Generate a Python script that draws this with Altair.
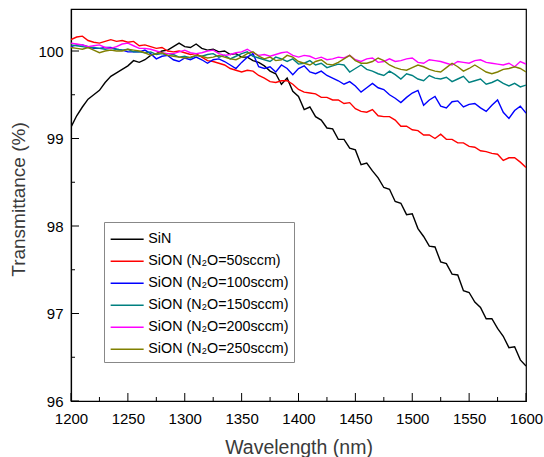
import altair as alt
import pandas as pd

FONT = "Liberation Sans"

wavelength = list(range(1200, 1605, 5))

series_names = [
    "SiN",
    "SiON (N\u2082O=50sccm)",
    "SiON (N\u2082O=100sccm)",
    "SiON (N\u2082O=150sccm)",
    "SiON (N\u2082O=200sccm)",
    "SiON (N\u2082O=250sccm)",
]
series_colors = ["#000000", "#FF0000", "#0000FF", "#008080", "#FF00FF", "#808000"]

sin = [99.13, 99.26, 99.36, 99.45, 99.50, 99.55, 99.64, 99.71, 99.75, 99.79,
       99.83, 99.89, 99.87, 99.90, 99.95, 99.97, 100.00, 100.01, 100.05, 100.09,
       100.05, 100.04, 100.08, 100.03, 100.01, 100.02, 99.99, 100.00, 99.96, 99.97,
       99.93, 99.93, 99.89, 99.87, 99.83, 99.77, 99.74, 99.62, 99.69, 99.54,
       99.48, 99.33, 99.36, 99.25, 99.21, 99.12, 99.11, 98.99, 98.99, 98.89,
       98.87, 98.70, 98.72, 98.63, 98.55, 98.44, 98.42, 98.28, 98.26, 98.13,
       98.14, 97.97, 97.88, 97.77, 97.76, 97.59, 97.57, 97.45, 97.44, 97.26,
       97.24, 97.13, 97.07, 96.94, 96.94, 96.83, 96.74, 96.61, 96.62, 96.47,
       96.40]

sion50 = [100.13, 100.16, 100.17, 100.12, 100.10, 100.09, 100.11, 100.13, 100.11, 100.12,
          100.10, 100.11, 100.06, 100.07, 100.05, 100.03, 100.04, 100.00, 99.99, 100.00,
          99.98, 99.96, 99.97, 99.93, 99.89, 99.88, 99.86, 99.84, 99.80, 99.78,
          99.76, 99.78, 99.77, 99.72, 99.69, 99.65, 99.64, 99.66, 99.66, 99.62,
          99.56, 99.53, 99.52, 99.51, 99.47, 99.47, 99.44, 99.44, 99.40, 99.41,
          99.34, 99.31, 99.30, 99.33, 99.26, 99.25, 99.25, 99.21, 99.14, 99.14,
          99.10, 99.09, 99.04, 99.04, 99.00, 99.05, 98.99, 98.99, 98.95, 98.95,
          98.91, 98.90, 98.86, 98.85, 98.83, 98.82, 98.75, 98.78, 98.78, 98.73,
          98.67]

sion100 = [100.05, 100.07, 100.07, 100.05, 100.03, 100.03, 100.04, 100.04, 100.02, 100.01,
           99.99, 99.99, 99.99, 100.01, 99.97, 99.91, 99.94, 99.95, 99.90, 99.88,
           99.92, 99.90, 99.93, 99.90, 99.86, 99.90, 99.91, 99.88, 99.84, 99.80,
           99.87, 99.93, 99.97, 99.82, 99.80, 99.82, 99.76, 99.84, 99.80, 99.73,
           99.80, 99.83, 99.76, 99.74, 99.77, 99.72, 99.69, 99.66, 99.62, 99.65,
           99.60, 99.53, 99.58, 99.63, 99.58, 99.56, 99.50, 99.46, 99.41, 99.47,
           99.52, 99.55, 99.38, 99.44, 99.48, 99.37, 99.35, 99.42, 99.43, 99.36,
           99.39, 99.40, 99.35, 99.31, 99.38, 99.44, 99.30, 99.23, 99.32, 99.37,
           99.29]

sion150 = [100.07, 100.06, 100.05, 100.04, 100.04, 100.03, 100.02, 100.03, 100.02, 100.01,
           100.02, 99.99, 99.99, 99.98, 99.99, 99.96, 99.97, 99.95, 99.96, 99.93,
           99.94, 99.92, 99.95, 99.94, 99.96, 99.97, 99.93, 99.95, 99.91, 99.94,
           99.97, 99.99, 99.94, 99.92, 99.90, 99.88, 99.93, 99.91, 99.88, 99.91,
           99.85, 99.86, 99.89, 99.84, 99.86, 99.81, 99.83, 99.85, 99.84, 99.76,
           99.80, 99.84, 99.79, 99.77, 99.74, 99.72, 99.77, 99.73, 99.68, 99.74,
           99.72, 99.68, 99.66, 99.72, 99.69, 99.68, 99.70, 99.65, 99.68, 99.71,
           99.64, 99.66, 99.68, 99.62, 99.64, 99.67, 99.63, 99.60, 99.63, 99.59,
           99.61]

sion200 = [100.09, 100.08, 100.07, 100.05, 100.06, 100.07, 100.04, 100.03, 100.05, 100.08,
           100.09, 100.06, 100.03, 100.03, 100.02, 100.00, 99.98, 99.97, 99.97, 99.99,
           100.01, 99.98, 99.97, 99.98, 100.00, 100.01, 99.97, 99.95, 99.96, 99.98,
           99.99, 100.02, 99.98, 99.95, 99.96, 99.94, 99.96, 99.98, 99.99, 99.95,
           99.93, 99.95, 99.94, 99.91, 99.93, 99.90, 99.91, 99.93, 99.92, 99.95,
           99.90, 99.88, 99.91, 99.92, 99.87, 99.88, 99.91, 99.88, 99.89, 99.91,
           99.92, 99.87, 99.86, 99.90, 99.89, 99.88, 99.86, 99.84, 99.88, 99.87,
           99.86, 99.89, 99.90, 99.87, 99.86, 99.85, 99.84, 99.86, 99.82, 99.88,
           99.85]

sion250 = [100.04, 100.03, 100.02, 100.04, 100.01, 99.98, 100.00, 100.01, 100.00, 100.00,
           100.02, 100.01, 100.00, 99.98, 99.95, 99.97, 99.98, 99.95, 99.94, 99.93,
           99.92, 99.93, 99.95, 99.94, 99.92, 99.93, 99.95, 99.93, 99.91, 99.90,
           99.93, 99.97, 99.99, 99.94, 99.91, 99.93, 99.89, 99.90, 99.95, 99.93,
           99.88, 99.86, 99.84, 99.88, 99.90, 99.85, 99.84, 99.87, 99.91, 99.95,
           99.89, 99.86, 99.86, 99.88, 99.92, 99.89, 99.84, 99.81, 99.79, 99.78,
           99.81, 99.84, 99.82, 99.79, 99.77, 99.76, 99.81, 99.86, 99.82, 99.77,
           99.80, 99.84, 99.80, 99.76, 99.74, 99.76, 99.79, 99.80, 99.82, 99.80,
           99.76]

x_major_ticks = [1200, 1250, 1300, 1350, 1400, 1450, 1500, 1550, 1600]
x_minor_ticks = [1225, 1275, 1325, 1375, 1425, 1475, 1525, 1575]
y_major_ticks = [96, 97, 98, 99, 100]
y_minor_ticks = [96.5, 97.5, 98.5, 99.5]

all_series = [sin, sion50, sion100, sion150, sion200, sion250]
rows = []
for name, vals in zip(series_names, all_series):
    for w, v in zip(wavelength, vals):
        rows.append({"nm": w, "T": v, "series": name})
df = pd.DataFrame(rows)

W, H = 455, 392
xscale = alt.Scale(domain=[1200, 1600], nice=False, zero=False)
yscale = alt.Scale(domain=[96, 100.48], nice=False, zero=False)

xaxis = alt.Axis(
    values=x_major_ticks, format="d", ticks=False, grid=False,
    domainColor="black", domainWidth=1.2,
    labelFont=FONT, labelFontSize=15, labelColor="black", labelPadding=10,
    labelFlush=False,
    title="Wavelength (nm)", titleFont=FONT, titleFontSize=19.5, titleFontWeight="normal",
    titleColor="#3a3a3a", titleY=52, titleBaseline="alphabetic")
yaxis = alt.Axis(
    values=y_major_ticks, format="d", ticks=False, grid=False,
    domainColor="black", domainWidth=1.2,
    labelFont=FONT, labelFontSize=15, labelColor="black", labelPadding=8,
    labelFlush=False,
    title="Transmittance (%)", titleFont=FONT, titleFontSize=19, titleFontWeight="normal",
    titleColor="#3a3a3a", titleX=-47, titleY=190, titleAngle=270,
    titleBaseline="alphabetic", titleAlign="center")

lines = alt.Chart(df).mark_line(strokeWidth=1.4, clip=True).encode(
    x=alt.X("nm:Q", scale=xscale, axis=xaxis),
    y=alt.Y("T:Q", scale=yscale, axis=yaxis),
    color=alt.Color("series:N", sort=series_names,
                    scale=alt.Scale(domain=series_names, range=series_colors),
                    legend=alt.Legend(
                        orient="none", legendX=33, legendY=213,
                        title=" ", titleFontSize=1, titlePadding=4,
                        symbolType="M-3,0H3", symbolSize=121, symbolStrokeWidth=1.5,
                        symbolOffset=11, labelOffset=14,
                        labelFont=FONT, labelFontSize=14.3, labelColor="black",
                        strokeColor="#888888", fillColor="white", padding=5,
                        rowPadding=7)),
    order=alt.Order("nm:Q"),
)

def xticks(vals, length):
    d = pd.DataFrame({"nm": vals})
    return alt.Chart(d).mark_rule(color="black", strokeWidth=1).encode(
        x=alt.X("nm:Q", scale=xscale, axis=xaxis),
        y=alt.value(H), y2=alt.value(H - length))

def yticks(vals, length):
    d = pd.DataFrame({"T": vals})
    return alt.Chart(d).mark_rule(color="black", strokeWidth=1).encode(
        y=alt.Y("T:Q", scale=yscale, axis=yaxis),
        x=alt.value(0), x2=alt.value(length))

chart = alt.layer(
    lines,
    xticks(x_major_ticks, 8), xticks(x_minor_ticks, 4),
    yticks(y_major_ticks, 8), yticks(y_minor_ticks, 4),
).properties(
    width=W, height=H,
    padding={"left": 71, "top": 9, "right": 18, "bottom": 56},
    autosize=alt.AutoSizeParams(type="none"),
    background="white",
).configure_view(stroke="black", strokeWidth=1.2)

chart.save("out.html", embed_options={"renderer": "svg", "actions": False})
